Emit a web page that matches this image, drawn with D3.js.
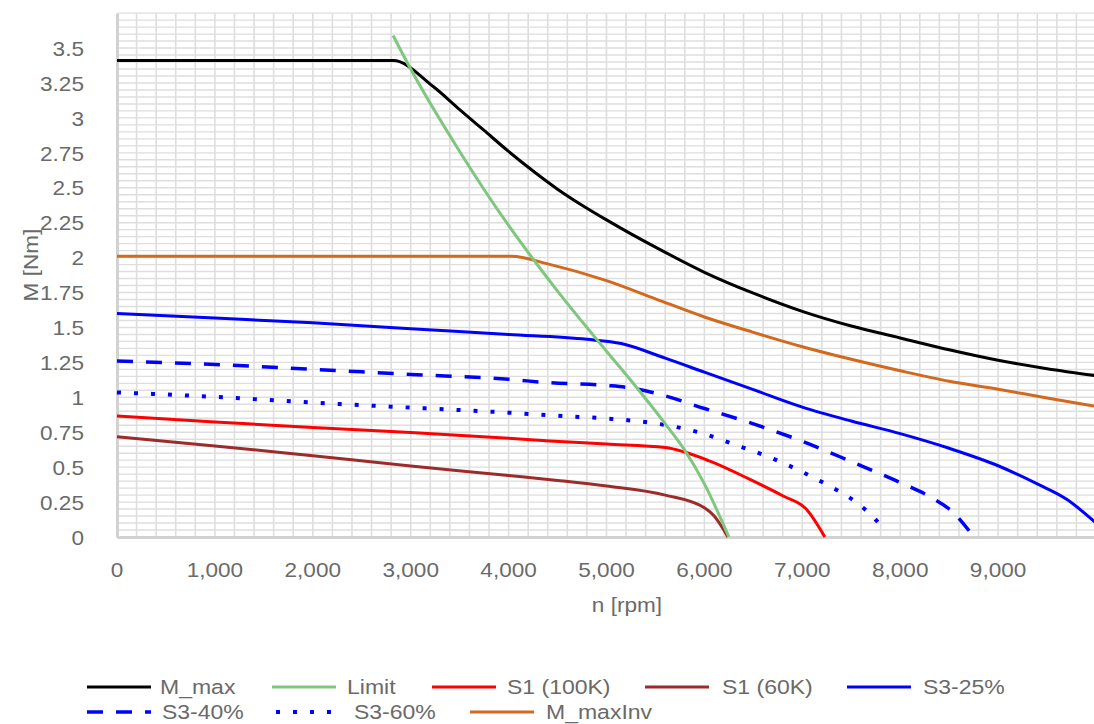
<!DOCTYPE html>
<html><head><meta charset="utf-8">
<script src="https://cdn.jsdelivr.net/npm/d3@7"></script>
<style>
body{margin:0;background:#fff;}
svg{display:block;font-family:"Liberation Sans",Arial,sans-serif;}
</style>
</head><body>
<svg id="chart" width="1094" height="724"></svg>
<script>
// ---- data ----
const xTickValues = [0,1000,2000,3000,4000,5000,6000,7000,8000,9000];
const yTickValues = [0,0.25,0.5,0.75,1,1.25,1.5,1.75,2,2.25,2.5,2.75,3,3.25,3.5];
const xTitle = "n [rpm]";
const yTitle = "M [Nm]";

const M_max = [[0,3.41],[2820,3.41],[3230,3.225],[3500,3.06],[3750,2.91],[4000,2.76],[4250,2.62],[4500,2.49],[4750,2.375],[5000,2.27],[5250,2.17],[5500,2.075],[6000,1.895],[6500,1.745],[7000,1.615],[7500,1.51],[8000,1.425],[8500,1.34],[9000,1.265],[9500,1.205],[10000,1.155]];
const Limit = [[2820,3.59],[3000,3.35],[3500,2.76],[4000,2.23],[4250,1.99],[4500,1.76],[5000,1.33],[5250,1.12],[5600,0.81],[5800,0.62],[6000,0.38],[6250,0]];
const S1_100K = [[0,0.866],[1000,0.824],[2000,0.783],[3000,0.748],[4000,0.707],[4420,0.688],[5000,0.665],[5600,0.64],[6050,0.545],[6460,0.414],[6800,0.295],[7040,0.2],[7230,0]];
const S1_60K = [[0,0.717],[1000,0.652],[2000,0.581],[3000,0.509],[4000,0.44],[4500,0.405],[5000,0.365],[5600,0.3],[6000,0.21],[6100,0.15],[6240,0]];
const S3_25 = [[0,1.6],[1000,1.567],[2000,1.533],[3000,1.491],[4000,1.45],[4800,1.415],[5150,1.385],[5600,1.28],[6000,1.18],[6500,1.055],[7000,0.93],[7500,0.83],[8000,0.74],[8500,0.635],[9000,0.51],[9400,0.38],[9700,0.27],[10000,0.1]];
const S3_40 = [[0,1.26],[1000,1.235],[2000,1.2],[3000,1.164],[4000,1.129],[4400,1.105],[5000,1.085],[5250,1.067],[5550,1.02],[6000,0.92],[6500,0.81],[7000,0.685],[7500,0.54],[8000,0.39],[8300,0.29],[8550,0.17],[8720,0.03]];
const S3_60 = [[0,1.035],[1000,1.003],[2000,0.962],[3000,0.926],[4000,0.89],[4550,0.866],[5000,0.848],[5450,0.818],[5950,0.748],[6300,0.664],[6630,0.581],[6940,0.486],[7240,0.379],[7550,0.248],[7800,0.08],[7830,0.05]];
const M_maxInv = [[0,2.01],[4030,2.01],[4400,1.955],[5000,1.835],[5500,1.705],[6000,1.575],[6500,1.465],[7000,1.362],[7500,1.272],[8000,1.19],[8500,1.115],[9000,1.058],[9500,0.995],[10000,0.935]];

const seriesNames = ["M_max","Limit","S1 (100K)","S1 (60K)","S3-25%","S3-40%","S3-60%","M_maxInv"];
const seriesData = [M_max, Limit, S1_100K, S1_60K, S3_25, S3_40, S3_60, M_maxInv];

// ---- styles ----
const seriesStyle = [
  {color:"#000000", dash:null, w:3},
  {color:"#7fc77f", dash:null, w:3},
  {color:"#ff0000", dash:null, w:3},
  {color:"#9c2b2b", dash:null, w:3},
  {color:"#0000ff", dash:null, w:3},
  {color:"#0000ff", dash:"16,13", w:3.5},
  {color:"#0000ff", dash:"4,13", w:4},
  {color:"#d2691e", dash:null, w:3}
];
const drawOrder = [7,4,5,6,2,3,0,1];
const legendRows = [
  {y:687, items:[0,1,2,3,4], xs:[87,272,432,645,847]},
  {y:712, items:[5,6,7], xs:[87,276,470]}
];
const legendTextOffset = [73,75,75,77,76,75,78,76];

const textColor = "#6a6a6a";
const svg = d3.select("#chart");
const x = d3.scaleLinear().domain([0,10000]).range([117,1096]);
const y = d3.scaleLinear().domain([0,3.75]).range([537,537-3.75*139.7]);

// grid
const grid = svg.append("g");
grid.selectAll("line.v").data(d3.range(0,51).map(i=>i*200)).join("line")
  .attr("x1",d=>x(d)).attr("x2",d=>x(d)).attr("y1",y(3.75)).attr("y2",y(0))
  .attr("stroke","#dedede").attr("stroke-width",1.6);
grid.selectAll("line.h").data(d3.range(0,76).map(i=>i*0.05)).join("line")
  .attr("x1",x(0)).attr("x2",x(10000)).attr("y1",d=>y(d)).attr("y2",d=>y(d))
  .attr("stroke","#dedede").attr("stroke-width",1.4);

// axes
const sx = 1.13;
const gy = svg.append("g").attr("transform",`translate(${x(0)},0)`)
  .call(d3.axisLeft(y).tickValues(yTickValues).tickSize(0).tickFormat(d=>String(d)));
gy.select(".domain").attr("stroke","#d2d2d2").attr("stroke-width",3);
gy.selectAll("text").attr("x",-33/sx).attr("dy","0.36em").attr("transform",`scale(${sx},1)`)
  .attr("font-size",20).attr("fill",textColor).attr("font-family","Liberation Sans, Arial, sans-serif");

const gx = svg.append("g").attr("transform",`translate(0,${y(0)})`)
  .call(d3.axisBottom(x).tickValues(xTickValues).tickSize(0).tickFormat(d3.format(",")));
gx.select(".domain").attr("stroke","#d2d2d2").attr("stroke-width",3);
gx.selectAll(".tick text").attr("x",0).attr("y",33).attr("dy","0.36em").attr("transform",`scale(${sx},1)`)
   .attr("font-size",20).attr("fill",textColor).attr("font-family","Liberation Sans, Arial, sans-serif");
gx.selectAll(".tick").attr("transform",d=>`translate(${x(d)},0)`);

// titles
svg.append("text").attr("transform",`translate(627,605) scale(${sx},1)`).attr("text-anchor","middle")
  .attr("dy","0.36em").attr("font-size",20).attr("fill",textColor).text(xTitle);
svg.append("text").attr("transform",`translate(31,265) rotate(-90) scale(${sx},1)`).attr("text-anchor","middle")
  .attr("dy","0.36em").attr("font-size",20).attr("fill",textColor).text(yTitle);

// lines
const line = d3.line().x(d=>x(d[0])).y(d=>y(d[1])).curve(d3.curveMonotoneX);
const lg = svg.append("g");
drawOrder.forEach(i=>{
  const s = seriesStyle[i];
  lg.append("path").datum(seriesData[i]).attr("d",line).attr("fill","none")
    .attr("stroke",s.color).attr("stroke-width",s.w).attr("stroke-dasharray",s.dash)
    .attr("stroke-linejoin","round");
});

// legend
const sxl = 1.18;
legendRows.forEach(row=>{
  row.items.forEach((i,k)=>{
    const s = seriesStyle[i];
    const x0 = row.xs[k];
    svg.append("line").attr("x1",x0).attr("x2",x0+64).attr("y1",row.y).attr("y2",row.y)
      .attr("stroke",s.color).attr("stroke-width",s.w).attr("stroke-dasharray",s.dash);
    svg.append("text").attr("transform",`translate(${x0+legendTextOffset[i]},${row.y}) scale(${sxl},1)`)
      .attr("dy","0.36em").attr("font-size",19.5).attr("fill",textColor).text(seriesNames[i]);
  });
});
</script>
</body></html>
